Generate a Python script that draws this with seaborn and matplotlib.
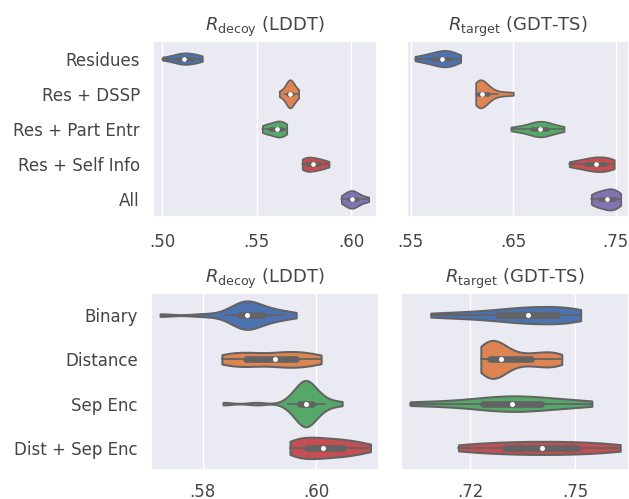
import matplotlib
matplotlib.use("Agg")
import matplotlib.pyplot as plt
import numpy as np
import pandas as pd
import seaborn as sns
from matplotlib.ticker import FuncFormatter

# ---------------- data ----------------
feature_sets = ["Residues", "Res + DSSP", "Res + Part Entr", "Res + Self Info", "All"]
contact_sets = ["Binary", "Distance", "Sep Enc", "Dist + Sep Enc"]

# Top row: R_decoy (LDDT)
decoy_residues = [0.5002, 0.5038, 0.5060, 0.5078, 0.5092, 0.5104, 0.5110, 0.5118, 0.5132, 0.5143, 0.5155, 0.5168, 0.5182, 0.5197, 0.5213]
decoy_dssp = [0.5621, 0.5648, 0.5661, 0.5668, 0.5673, 0.5677, 0.5681, 0.5686, 0.5693, 0.5705, 0.5723]
decoy_partentr = [0.5531, 0.5545, 0.5562, 0.5578, 0.5592, 0.5604, 0.5612, 0.5620, 0.5630, 0.5641, 0.5651, 0.5660]
decoy_selfinfo = [0.5742, 0.5750, 0.5760, 0.5772, 0.5784, 0.5797, 0.5810, 0.5824, 0.5840, 0.5860, 0.5884]
decoy_all = [0.5949, 0.5968, 0.5982, 0.5993, 0.6000, 0.6007, 0.6014, 0.6025, 0.6040, 0.6060, 0.6094]

# Top row: R_target (GDT-TS)
target_residues = [0.5542, 0.5610, 0.5660, 0.5700, 0.5735, 0.5760, 0.5785, 0.5808, 0.5830, 0.5850, 0.5870, 0.5890, 0.5915, 0.5945, 0.5988]
target_dssp = [0.6134, 0.6138, 0.6143, 0.6149, 0.6155, 0.6161, 0.6168, 0.6175, 0.6183, 0.6192,
               0.6202, 0.6212, 0.6222, 0.6235, 0.6250, 0.6270, 0.6300, 0.6350, 0.6420, 0.6501]
target_partentr = [0.6479, 0.6570, 0.6635, 0.6685, 0.6720, 0.6745, 0.6758, 0.6775, 0.6800, 0.6830, 0.6870, 0.6925, 0.6996]
target_selfinfo = [0.7047, 0.7100, 0.7150, 0.7195, 0.7230, 0.7260, 0.7285, 0.7308, 0.7332, 0.7358, 0.7385, 0.7412, 0.7440, 0.7465, 0.7486]
target_all = [0.7262, 0.7285, 0.7310, 0.7335, 0.7360, 0.7385, 0.7405, 0.7420, 0.7438, 0.7455, 0.7472, 0.7490, 0.7510, 0.7530, 0.7549]

# Bottom row: R_decoy (LDDT)
decoy_binary = [0.5725, 0.5800, 0.5840, 0.5852, 0.5860, 0.5866, 0.5869, 0.5871, 0.5875, 0.5877, 0.5879,
                0.5883, 0.5887, 0.5892, 0.5898, 0.5905, 0.5913, 0.5922, 0.5933, 0.5946, 0.5965]
decoy_distance = [0.5834, 0.5848, 0.5862, 0.5876, 0.5890, 0.5905, 0.5928, 0.5940, 0.5952, 0.5964, 0.5977, 0.5992, 0.6009]
decoy_sepenc = [0.5836, 0.5895, 0.5950, 0.5956, 0.5961, 0.5965, 0.5968, 0.5971, 0.5973, 0.5975,
                0.5977, 0.5978, 0.5979, 0.5980, 0.5981, 0.5982, 0.5983, 0.5984, 0.5986, 0.5988,
                0.5990, 0.5992, 0.5994, 0.5997, 0.6000, 0.6004, 0.6009, 0.6015, 0.6028, 0.6046]
decoy_distsep = [0.5954, 0.5963, 0.5972, 0.5981, 0.5990, 0.5999, 0.6008, 0.6018, 0.6028, 0.6039, 0.6050, 0.6062, 0.6075, 0.6096]

# Bottom row: R_target (GDT-TS)
target_binary = [0.7088, 0.7150, 0.7200, 0.7240, 0.7272, 0.7300, 0.7325, 0.7345, 0.7364, 0.7370,
                 0.7400, 0.7418, 0.7435, 0.7452, 0.7470, 0.7488, 0.7503, 0.7516]
target_distance = [0.7231, 0.7234, 0.7238, 0.7242, 0.7246, 0.7250, 0.7254, 0.7258, 0.7262, 0.7266,
                   0.7270, 0.7274, 0.7278, 0.7283, 0.7288, 0.7294, 0.7300, 0.7308, 0.7322, 0.7340,
                   0.7358, 0.7375, 0.7390, 0.7404, 0.7417, 0.7429, 0.7440, 0.7451, 0.7462]
target_sepenc = [0.7029, 0.7120, 0.7185, 0.7230, 0.7262, 0.7288, 0.7310, 0.7331, 0.7352, 0.7380, 0.7410, 0.7445, 0.7490, 0.7548]
target_distsep = [0.7167, 0.7210, 0.7250, 0.7285, 0.7315, 0.7345, 0.7375, 0.7405, 0.7432, 0.7460, 0.7490, 0.7520, 0.7555, 0.7590, 0.7629]

ticks_tl = [0.50, 0.55, 0.60]
ticks_tr = [0.55, 0.65, 0.75]
ticks_bl = [0.58, 0.60]
ticks_br = [0.72, 0.75]

title_decoy = r"$R_\mathrm{decoy}$ (LDDT)"
title_target = r"$R_\mathrm{target}$ (GDT-TS)"


def long_df(names, groups):
    rows = []
    for n, g in zip(names, groups):
        for v in g:
            rows.append((n, v))
    return pd.DataFrame(rows, columns=["model", "value"])


df_tl = long_df(feature_sets, [decoy_residues, decoy_dssp, decoy_partentr, decoy_selfinfo, decoy_all])
df_tr = long_df(feature_sets, [target_residues, target_dssp, target_partentr, target_selfinfo, target_all])
df_bl = long_df(contact_sets, [decoy_binary, decoy_distance, decoy_sepenc, decoy_distsep])
df_br = long_df(contact_sets, [target_binary, target_distance, target_sepenc, target_distsep])

# ---------------- plot ----------------
sns.set_theme(style="darkgrid")
plt.rcParams["font.family"] = ["DejaVu Sans"]
plt.rcParams["mathtext.fontset"] = "dejavusans"
TEXT = "#454545"
plt.rcParams["text.color"] = TEXT
plt.rcParams["xtick.color"] = TEXT
plt.rcParams["ytick.color"] = TEXT

fig = plt.figure(figsize=(6.29, 4.99), dpi=100)
W, H = 629.0, 499.0


def add_ax(x0, x1, y0, y1):
    return fig.add_axes([x0 / W, (H - y1) / H, (x1 - x0) / W, (y1 - y0) / H])


ax_tl = add_ax(153, 377, 41, 217)
ax_tr = add_ax(407, 629, 41, 217)
ax_bl = add_ax(151, 379, 293, 470)
ax_br = add_ax(401, 629, 293, 470)

fmt = FuncFormatter(lambda v, p: f"{v:.2f}".lstrip("0"))

# ax, data, order, ticks, xlim, title, show y labels, max width, line width, box width, tick pad, bw adjust
panels = [
    (ax_tl, df_tl, feature_sets, ticks_tl, (0.4952, 0.6138), title_decoy, True, 0.8, 1.2, 3.3, 5.5, 1.0),
    (ax_tr, df_tr, feature_sets, ticks_tr, (0.5464, 0.7630), title_target, False, 0.8, 1.2, 3.3, 5.5, 1.0),
    (ax_bl, df_bl, contact_sets, ticks_bl, (0.5709, 0.6111), title_decoy, True, 1.05, 1.45, 4.8, 3.5, 0.75),
    (ax_br, df_br, contact_sets, ticks_br, (0.7003, 0.7654), title_target, False, 0.86, 1.45, 4.8, 3.5, 0.8),
]

for ax, df, order, ticks, xlim, title, show_y, width, lw, bw, pad, bwa in panels:
    sns.violinplot(data=df, x="value", y="model", hue="model", order=order,
                   hue_order=order, palette="deep", saturation=1, cut=0, width=width,
                   density_norm="area", common_norm=True, bw_adjust=bwa,
                   linewidth=lw, linecolor="#636363", legend=False, ax=ax,
                   inner_kws={"box_width": bw, "whis_width": lw * 0.9,
                              "marker": "o", "markersize": 2.6})
    ax.set_xlim(*xlim)
    ax.set_xticks(ticks)
    ax.xaxis.set_major_formatter(fmt)
    ax.set_xlabel("")
    ax.set_ylabel("")
    ax.set_title(title, fontsize=13, pad=7, color=TEXT)
    ax.tick_params(axis="both", labelsize=12)
    ax.tick_params(axis="x", pad=pad)
    if not show_y:
        ax.set_yticklabels([])
    ax.grid(axis="y", visible=False)

fig.savefig("out.png", dpi=100)
